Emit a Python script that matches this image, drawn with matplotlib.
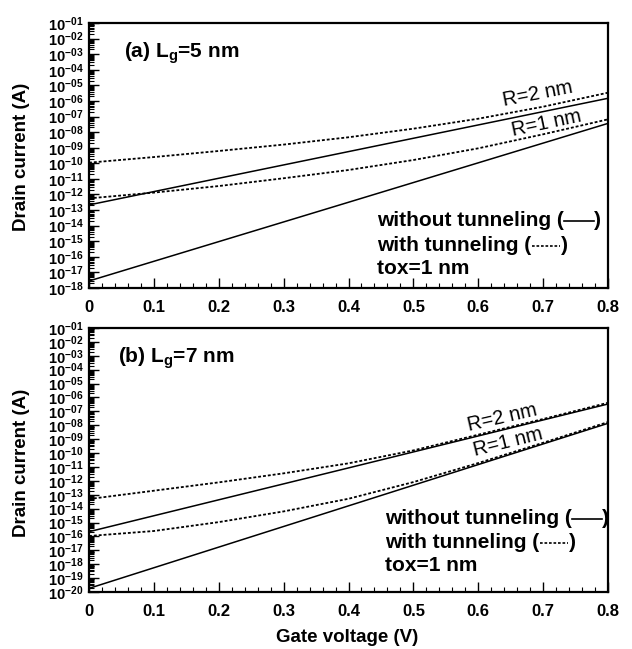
import numpy as np
import matplotlib
matplotlib.use("Agg")
import matplotlib.pyplot as plt
from matplotlib.ticker import LogLocator, FuncFormatter, MultipleLocator, NullFormatter
from matplotlib.lines import Line2D

# ---------------- data (log10 of drain current, A) ----------------
vg_tun = [0.0, 0.1, 0.2, 0.3, 0.4, 0.5, 0.6, 0.7, 0.8]
vg_lin = [0.0, 0.4, 0.8]

# (a) Lg = 5 nm
a_tun_R2 = [-9.96, -9.60, -9.21, -8.80, -8.33, -7.78, -7.14, -6.37, -5.47]
a_tun_R1 = [-12.25, -11.88, -11.46, -10.96, -10.43, -9.79, -9.04, -8.14, -7.18]
a_notun_R2 = [-12.67, -9.25, -5.83]
a_notun_R1 = [-17.55, -12.50, -7.44]

# (b) Lg = 7 nm
b_tun_R2 = [-13.31, -12.71, -12.11, -11.46, -10.74, -9.81, -8.68, -7.55, -6.38]
b_tun_R1 = [-15.97, -15.61, -14.97, -14.20, -13.29, -12.09, -10.72, -9.26, -7.77]
b_notun_R2 = [-15.66, -11.07, -6.47]
b_notun_R1 = [-19.74, -13.80, -7.86]

panel_titles = ["(a) L$_{\\mathrm{g}}$=5 nm", "(b) L$_{\\mathrm{g}}$=7 nm"]
ylow_exp = [-18, -20]
legend_lines = ["without tunneling (", "with tunneling (", "tox=1 nm"]

# ---------------- style ----------------
plt.rcParams["font.family"] = ["Liberation Sans", "DejaVu Sans"]
plt.rcParams["font.weight"] = "bold"
plt.rcParams["mathtext.fontset"] = "custom"
plt.rcParams["mathtext.rm"] = "Liberation Sans:bold"
plt.rcParams["mathtext.bf"] = "Liberation Sans:bold"
plt.rcParams["mathtext.it"] = "Liberation Sans:bold"
plt.rcParams["mathtext.default"] = "rm"

W, H = 632, 649
fig = plt.figure(figsize=(W / 100, H / 100), dpi=100)


def rect(l, t, r, b):
    return [l / W, 1 - b / H, (r - l) / W, (b - t) / H]


axA = fig.add_axes(rect(89, 23, 608, 288))
axB = fig.add_axes(rect(89, 328, 608, 592))

dash = (0, (1.6, 1.1))


def setup(ax, lowexp):
    ax.set_yscale("log")
    ax.set_xlim(0, 0.8)
    ax.set_ylim(10.0 ** lowexp, 1e-1)
    ax.yaxis.set_major_locator(LogLocator(base=10, numticks=50))
    ax.yaxis.set_minor_locator(LogLocator(base=10, subs=np.arange(2, 10), numticks=50))
    ax.yaxis.set_major_formatter(
        FuncFormatter(lambda v, p: r"$10^{-%02d}$" % int(round(-np.log10(v)))))
    ax.yaxis.set_minor_formatter(NullFormatter())
    ax.xaxis.set_major_locator(MultipleLocator(0.1))
    ax.xaxis.set_minor_locator(MultipleLocator(0.02))
    ax.xaxis.set_major_formatter(
        FuncFormatter(lambda v, p: "0" if abs(v) < 1e-9 else f"{v:.1f}"))
    ax.tick_params(which="both", direction="in", top=False, right=False, color="black")
    ax.tick_params(which="major", length=7, width=1.0)
    ax.tick_params(which="minor", length=3.5, width=0.8)
    ax.tick_params(axis="y", labelsize=10.5, pad=4)
    ax.tick_params(axis="x", labelsize=12, pad=9)
    for s in ax.spines.values():
        s.set_linewidth(1.6)


def draw(ax, tR2, tR1, nR2, nR1):
    ax.plot(vg_lin, 10.0 ** np.array(nR2), color="black", lw=1.1)
    ax.plot(vg_lin, 10.0 ** np.array(nR1), color="black", lw=1.1)
    ax.plot(vg_tun, 10.0 ** np.array(tR2), color="black", lw=1.3, linestyle=dash)
    ax.plot(vg_tun, 10.0 ** np.array(tR1), color="black", lw=1.3, linestyle=dash)


setup(axA, ylow_exp[0])
setup(axB, ylow_exp[1])
draw(axA, a_tun_R2, a_tun_R1, a_notun_R2, a_notun_R1)
draw(axB, b_tun_R2, b_tun_R1, b_notun_R2, b_notun_R1)

# panel titles
axA.text(0.067, 0.887, panel_titles[0], transform=axA.transAxes, fontsize=15,
         ha="left", va="center")
axB.text(0.056, 0.886, panel_titles[1], transform=axB.transAxes, fontsize=15,
         ha="left", va="center")

# R labels
axA.text(0.865, 0.732, "R=2 nm", transform=axA.transAxes, fontsize=14.5,
         fontweight="normal", rotation=11, ha="center", va="center")
axA.text(0.881, 0.623, "R=1 nm", transform=axA.transAxes, fontsize=14.5,
         fontweight="normal", rotation=12, ha="center", va="center")
axB.text(0.796, 0.659, "R=2 nm", transform=axB.transAxes, fontsize=14.5,
         fontweight="normal", rotation=13, ha="center", va="center")
axB.text(0.807, 0.568, "R=1 nm", transform=axB.transAxes, fontsize=14.5,
         fontweight="normal", rotation=14, ha="center", va="center")

# axis labels
fig.text(22 / W, 1 - 157 / H, "Drain current (A)", rotation=90, ha="center",
         va="center", fontsize=13.5)
fig.text(22 / W, 1 - 463 / H, "Drain current (A)", rotation=90, ha="center",
         va="center", fontsize=13.5)
fig.text(347 / W, 1 - 638 / H, "Gate voltage (V)", ha="center", va="center",
         fontsize=13.5)

# in-plot key text
renderer = fig.canvas.get_renderer()
inv = fig.transFigure.inverted()


def key_block(ax, x, ys):
    t1 = ax.text(x, ys[0], legend_lines[0], transform=ax.transAxes, fontsize=15,
                 ha="left", va="center")
    t2 = ax.text(x, ys[1], legend_lines[1], transform=ax.transAxes, fontsize=15,
                 ha="left", va="center")
    ax.text(x, ys[2], legend_lines[2], transform=ax.transAxes, fontsize=15,
            ha="left", va="center")
    for t, style, length in ((t1, "-", 30), (t2, dash, 29)):
        bb = t.get_window_extent(renderer)
        yc = (bb.y0 + bb.y1) / 2 - 0.5
        p0 = inv.transform((bb.x1 + 0.5, yc))
        p1 = inv.transform((bb.x1 + length, yc))
        fig.add_artist(Line2D([p0[0], p1[0]], [p0[1], p1[1]], transform=fig.transFigure,
                              color="black", lw=1.2, linestyle=style))
        pr = inv.transform((bb.x1 + length + 0.5, (bb.y0 + bb.y1) / 2))
        fig.text(pr[0], pr[1], ")", ha="left", va="center", fontsize=15)


key_block(axA, 0.555, [0.253, 0.162, 0.075])
key_block(axB, 0.570, [0.280, 0.189, 0.102])

fig.savefig("out.png", dpi=100)
